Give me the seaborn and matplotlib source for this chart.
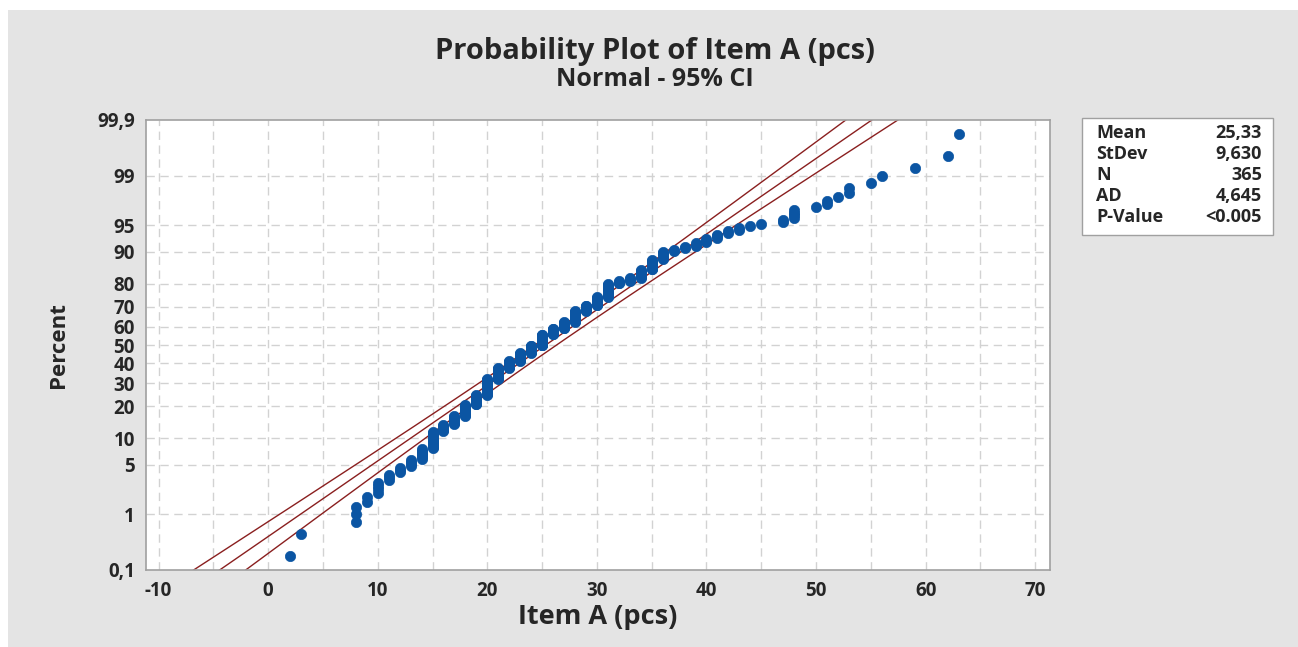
import matplotlib

matplotlib.use("Agg")
import matplotlib.pyplot as plt
import numpy as np
import pandas as pd
import seaborn as sns
from matplotlib.patches import Rectangle
from statistics import NormalDist

# valores observados (pcs) e quantas vezes cada um aparece
valores = [2, 3, 8, 9, 10, 11, 12, 13, 14, 15, 16, 17, 18, 19, 20, 21, 22, 23,
           24, 25, 26, 27, 28, 29, 30, 31, 32, 33, 34, 35, 36, 37, 38, 39, 40,
           41, 42, 43, 44, 45, 47, 48, 50, 51, 52, 53, 55, 56, 59, 62, 63]
contagens = [1, 1, 3, 2, 4, 3, 3, 4, 7, 15, 7, 10, 15, 15, 27, 20, 14, 16,
             14, 22, 12, 13, 20, 10, 14, 20, 4, 4, 10, 11, 8, 2, 2, 3, 3,
             3, 2, 2, 1, 1, 2, 4, 1, 2, 1, 2, 1, 1, 1, 1, 1]

ticks_pct = [0.1, 1, 5, 10, 20, 30, 40, 50, 60, 70, 80, 90, 95, 99, 99.9]
rotulos_pct = ["0,1", "1", "5", "10", "20", "30", "40", "50", "60", "70",
               "80", "90", "95", "99", "99,9"]
ticks_x = [-10, 0, 10, 20, 30, 40, 50, 60, 70]

media = 25.33
desvio = 9.630
n_obs = 365
estat_nomes = ["Mean", "StDev", "N", "AD", "P-Value"]
estat_valores = ["25,33", "9,630", "365", "4,645", "<0.005"]

normal = NormalDist()
ppf = np.vectorize(normal.inv_cdf)

# posicoes de plotagem (mediana dos postos, como no Minitab)
dados = np.repeat(valores, contagens)
postos = np.arange(1, len(dados) + 1)
df_pontos = pd.DataFrame({
    "x": dados,
    "z": ppf((postos - 0.3) / (len(dados) + 0.4)),
})

# reta ajustada e intervalo de confianca de 95%
z_lim = normal.inv_cdf(0.999)
z_grade = np.linspace(-z_lim - 0.05, z_lim + 0.05, 200)
meio = 1.96 * desvio * np.sqrt((1 + z_grade**2 / 2) / n_obs)
df_linhas = pd.concat([
    pd.DataFrame({"x": media + desvio * z_grade, "z": z_grade, "curva": "fit"}),
    pd.DataFrame({"x": media + desvio * z_grade - meio, "z": z_grade, "curva": "lo"}),
    pd.DataFrame({"x": media + desvio * z_grade + meio, "z": z_grade, "curva": "hi"}),
])

sns.set_style("white")
plt.rcParams["font.family"] = ["Open Sans", "DejaVu Sans"]
peso = "bold"
cor_texto = "#262626"

fig = plt.figure(figsize=(12.98, 6.47), dpi=100)
fig.patch.set_facecolor("white")
fig.patches.append(Rectangle((8 / 1298, 0), 1, 1 - 10 / 647,
                             transform=fig.transFigure, facecolor="#e4e4e4",
                             edgecolor="none", zorder=-10))

ax = fig.add_axes([146 / 1298, 1 - 570 / 647, (1050 - 146) / 1298, (570 - 120) / 647])
ax.set_facecolor("white")

for xv in range(-10, 75, 5):
    ax.axvline(xv, color="#d2d2d2", linestyle=(0, (6, 4)), linewidth=1, zorder=0)
for pv in ticks_pct[1:-1]:
    ax.axhline(normal.inv_cdf(pv / 100), color="#d2d2d2", linestyle=(0, (6, 4)),
               linewidth=1, zorder=0)

sns.lineplot(data=df_linhas, x="x", y="z", units="curva", estimator=None,
             sort=False, color="#8a1f1f", linewidth=1, ax=ax, zorder=2)
sns.scatterplot(data=df_pontos, x="x", y="z", color="#0b55a3", edgecolor="#0b55a3",
                s=55, linewidth=0.5, ax=ax, zorder=3)

ax.set_xlim(-11.15, 71.35)
ax.set_ylim(-z_lim, z_lim)
ax.set_xticks(ticks_x)
ax.set_xticklabels([str(t) for t in ticks_x])
ax.set_yticks([normal.inv_cdf(p / 100) for p in ticks_pct])
ax.set_yticklabels(rotulos_pct)
ax.tick_params(axis="both", direction="out", length=6, width=1, color="#a0a0a0",
               labelsize=13.5, labelcolor=cor_texto, pad=2)
for lbl in ax.get_xticklabels() + ax.get_yticklabels():
    lbl.set_fontweight(peso)
for sp in ax.spines.values():
    sp.set_color("#a0a0a0")
    sp.set_linewidth(1.2)

ax.set_xlabel("Item A (pcs)", fontsize=19.5, fontweight=peso, color=cor_texto)
ax.xaxis.set_label_coords(0.5, -0.075)
ax.set_ylabel("")
fig.text(58 / 1298, 1 - 345 / 647, "Percent", rotation=90, ha="center", va="center",
         fontsize=16, fontweight=peso, color=cor_texto)

fig.text(655 / 1298, 1 - 52 / 647, "Probability Plot of Item A (pcs)", ha="center",
         va="center", fontsize=21, fontweight=peso, color=cor_texto)
fig.text(655 / 1298, 1 - 79 / 647, "Normal - 95% CI", ha="center", va="center",
         fontsize=18, fontweight=peso, color=cor_texto)

# caixa de estatisticas
fig.patches.append(Rectangle((1082 / 1298, 1 - 235 / 647), (1273 - 1082) / 1298,
                             (235 - 118) / 647, transform=fig.transFigure,
                             facecolor="white", edgecolor="#a0a0a0", linewidth=1))
for i, (nome, val) in enumerate(zip(estat_nomes, estat_valores)):
    y = 1 - (133 + 21 * i) / 647
    fig.text(1096 / 1298, y, nome, ha="left", va="center", fontsize=13,
             fontweight=peso, color=cor_texto)
    fig.text(1262 / 1298, y, val, ha="right", va="center", fontsize=13,
             fontweight=peso, color=cor_texto)

fig.savefig("out.png", dpi=100)
